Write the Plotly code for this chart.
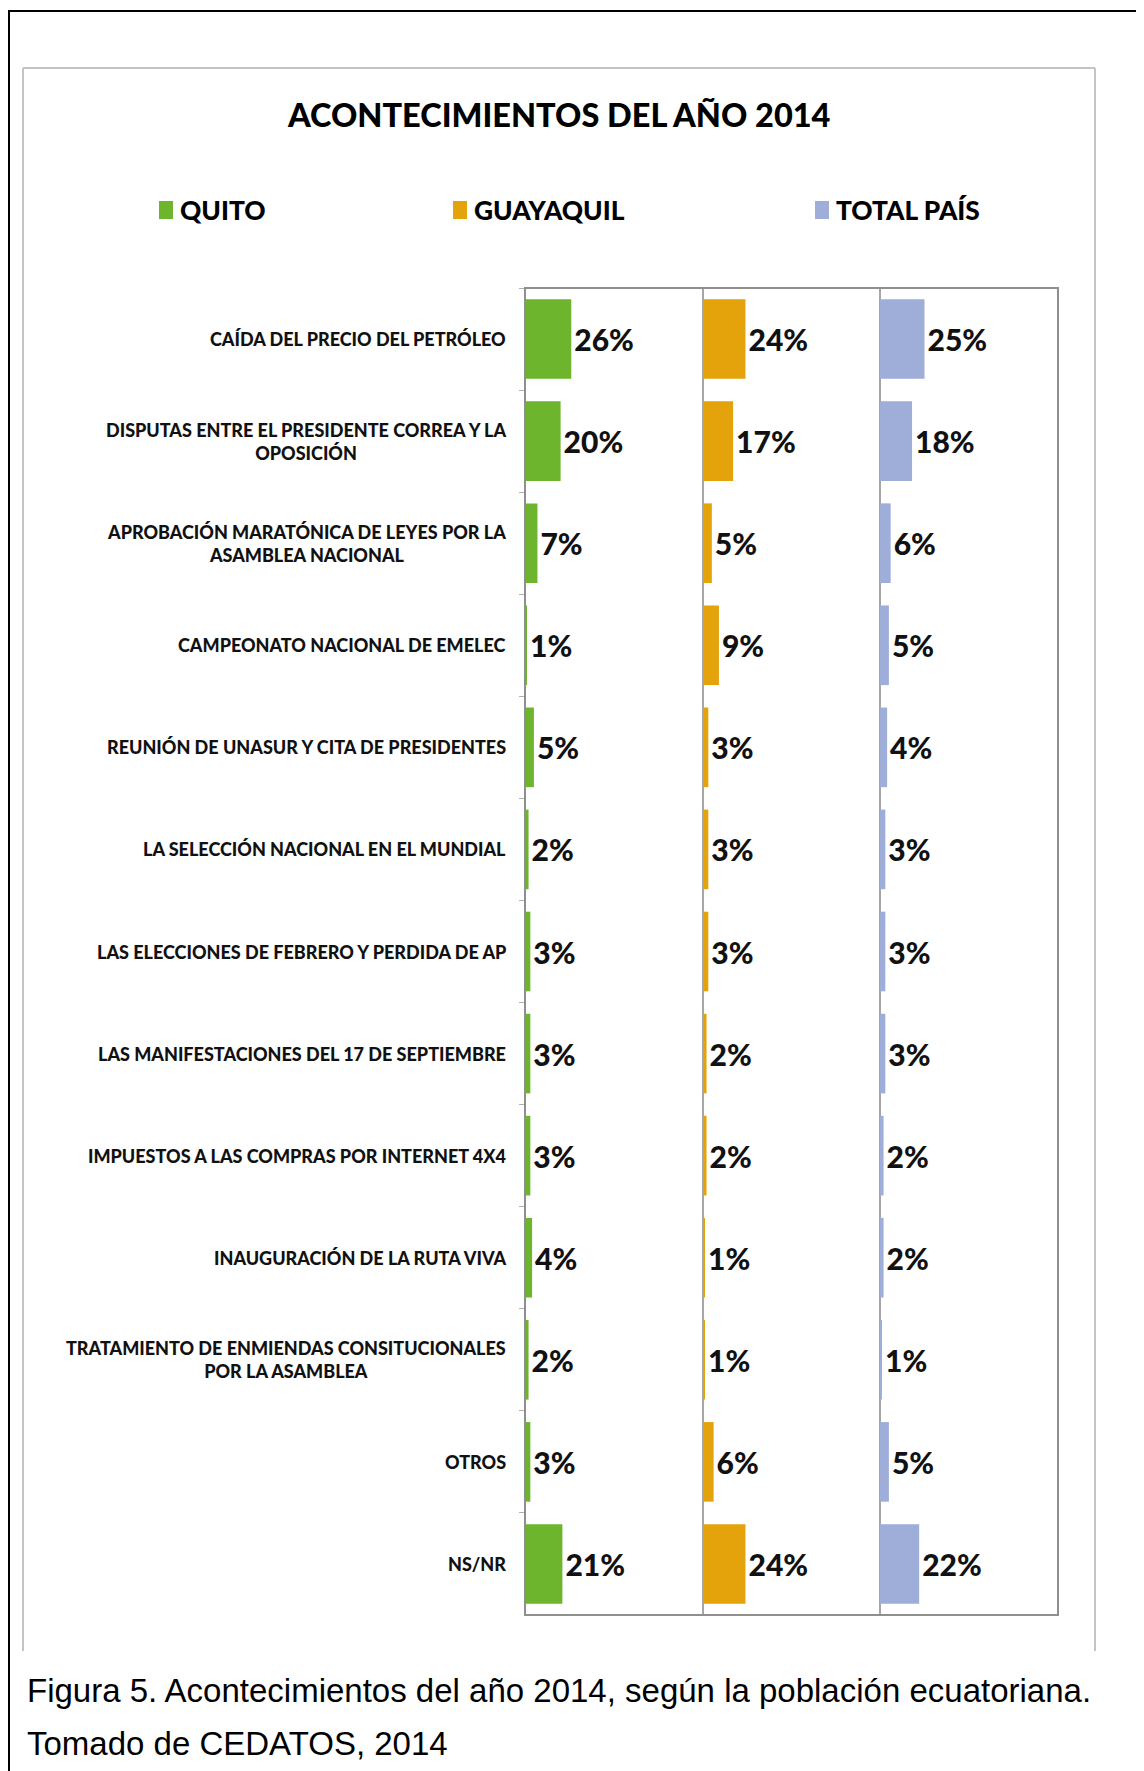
import plotly.graph_objects as go

# the page body adds an 8px margin, so the figure is drawn 8px smaller and offset
OFF = 8
W, H = 1144 - OFF, 1771 - OFF

categories = [
    "CAÍDA DEL PRECIO DEL PETRÓLEO",
    "DISPUTAS ENTRE EL PRESIDENTE CORREA Y LA<br>OPOSICIÓN",
    "APROBACIÓN MARATÓNICA DE LEYES POR LA<br>ASAMBLEA NACIONAL",
    "CAMPEONATO NACIONAL DE EMELEC",
    "REUNIÓN DE UNASUR Y CITA DE PRESIDENTES",
    "LA SELECCIÓN NACIONAL EN EL MUNDIAL",
    "LAS ELECCIONES DE FEBRERO Y PERDIDA DE AP",
    "LAS MANIFESTACIONES DEL 17 DE SEPTIEMBRE",
    "IMPUESTOS A LAS COMPRAS POR INTERNET 4X4",
    "INAUGURACIÓN DE LA RUTA VIVA",
    "TRATAMIENTO DE ENMIENDAS CONSITUCIONALES<br>POR LA ASAMBLEA",
    "OTROS",
    "NS/NR",
]
quito = [26, 20, 7, 1, 5, 2, 3, 3, 3, 4, 2, 3, 21]
guayaquil = [24, 17, 5, 9, 3, 3, 3, 2, 2, 1, 1, 6, 24]
total_pais = [25, 18, 6, 5, 4, 3, 3, 3, 2, 2, 1, 5, 22]

series = [("QUITO", quito, "#6cb52d"),
          ("GUAYAQUIL", guayaquil, "#e4a20b"),
          ("TOTAL PAÍS", total_pais, "#9fadd9")]

FONT = "Lato, Carlito, Calibri, sans-serif"
HEAVY = 900

# plot area in page pixels
px_left, px_right, px_top, px_bottom = 525, 1058, 288, 1615
edges = [px_left, 703, 880, px_right]

def fx(p):
    return (p - OFF) / W

def fy(p):
    return 1 - (p - OFF) / H

keys = [c.replace("<br>", " ") for c in categories]

fig = go.Figure()
for i, (name, vals, col) in enumerate(series):
    xa = "x" if i == 0 else f"x{i + 1}"
    fig.add_trace(go.Bar(
        x=vals, y=keys, orientation="h", name=name, xaxis=xa, yaxis="y",
        marker=dict(color=col, line=dict(width=0)),
        texttemplate="%{x}%", textposition="outside", constraintext="none",
        textfont=dict(family=FONT, size=30, color="#111111", weight=HEAVY),
        cliponaxis=False, showlegend=False, width=0.78,
    ))

layout_axes = {}
for i in range(3):
    key = "xaxis" if i == 0 else f"xaxis{i + 1}"
    layout_axes[key] = dict(
        domain=[fx(edges[i]), fx(edges[i + 1])], range=[0, 100],
        showgrid=False, showticklabels=False, ticks="", fixedrange=True,
        zeroline=True, zerolinecolor="#a6a6a6", zerolinewidth=1.5,
        anchor="y", showline=False,
    )

fig.update_layout(
    width=W, height=H,
    margin=dict(l=0, r=0, t=0, b=0),
    paper_bgcolor="white", plot_bgcolor="white",
    yaxis=dict(
        domain=[fy(px_bottom), fy(px_top)],
        categoryorder="array", categoryarray=keys, autorange="reversed",
        showticklabels=False, showgrid=False, zeroline=False,
        ticks="outside", tickson="boundaries", ticklen=5, tickcolor="#b0b0b0",
        showline=False, anchor="x",
    ),
    **layout_axes,
)

# category labels
for k, c in zip(keys, categories):
    fig.add_annotation(
        x=fx(508), y=k, xref="paper", yref="y", text=c,
        xanchor="right", yanchor="middle", align="center", showarrow=False,
        font=dict(family=FONT, size=18, color="#111111", weight=HEAVY),
    )

# frame of the plot area
fig.add_shape(type="rect", xref="paper", yref="paper",
              x0=fx(px_left), x1=fx(px_right), y0=fy(px_bottom), y1=fy(px_top),
              line=dict(color="#8f8f8f", width=2), layer="above")

# inner chart panel (top, left, right)
for x0, y0, x1, y1 in [(23, 68, 1095, 68), (23, 68, 23, 1651), (1095, 68, 1095, 1651)]:
    fig.add_shape(type="line", xref="paper", yref="paper",
                  x0=fx(x0), y0=fy(y0), x1=fx(x1), y1=fy(y1),
                  line=dict(color="#c4c4c4", width=2))

# outer black border
fig.add_shape(type="rect", xref="paper", yref="paper",
              x0=fx(9), x1=fx(1142), y0=fy(1775), y1=fy(11),
              line=dict(color="black", width=2))

# title
fig.add_annotation(
    x=fx(559), y=fy(115), xref="paper", yref="paper",
    text="ACONTECIMIENTOS DEL AÑO 2014", showarrow=False,
    xanchor="center", yanchor="middle",
    font=dict(family=FONT, size=32.5, color="black", weight=HEAVY),
)

# legend
legend_x = [159, 453, 815]
for (name, vals, col), lx in zip(series, legend_x):
    fig.add_shape(type="rect", xref="paper", yref="paper",
                  x0=fx(lx), x1=fx(lx + 14), y0=fy(219), y1=fy(201),
                  fillcolor=col, line=dict(width=0))
    fig.add_annotation(
        x=fx(lx + 19), y=fy(210), xref="paper", yref="paper",
        text=name, showarrow=False, xanchor="left", yanchor="middle",
        font=dict(family=FONT, size=26.3, color="black", weight=HEAVY),
    )

# caption
for text, yy in [("Figura 5. Acontecimientos del año 2014, según la población ecuatoriana.", 1690),
                 ("Tomado de CEDATOS, 2014", 1743)]:
    fig.add_annotation(
        x=fx(25), y=fy(yy), xref="paper", yref="paper",
        text=text, showarrow=False, xanchor="left", yanchor="middle",
        font=dict(family="Liberation Sans, Arial, sans-serif", size=33, color="black"),
    )

fig.write_html("out.html")
